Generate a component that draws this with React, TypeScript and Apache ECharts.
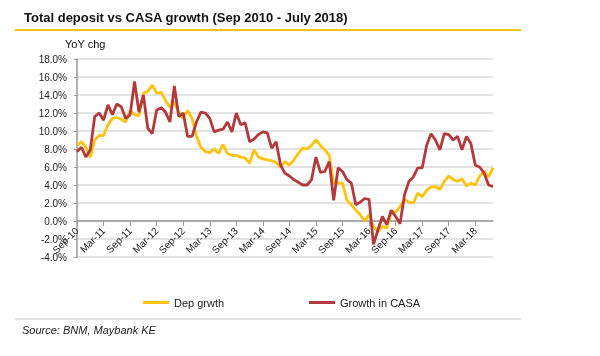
import React, { useEffect, useRef } from "react";
import * as echarts from "echarts";

const TITLE = "Total deposit vs CASA growth (Sep 2010 - July 2018)";
const Y_UNIT = "YoY chg";
const SOURCE = "Source: BNM, Maybank KE";
const SERIES_NAMES = ["Dep grwth", "Growth in CASA"];
const MONTH_NAMES = ["Jan", "Feb", "Mar", "Apr", "May", "Jun", "Jul", "Aug", "Sep", "Oct", "Nov", "Dec"];

// Monthly categories Sep-10 .. Jul-18
const categories: string[] = [];
for (let y = 2010, m = 8; y < 2018 || (y === 2018 && m <= 6); ) {
  categories.push(MONTH_NAMES[m] + "-" + String(y).slice(2));
  m++;
  if (m === 12) { m = 0; y++; }
}

const depGrowth = [
  8.4, 8.8, 8.2, 7.1, 9.0, 9.5, 9.5, 10.7, 11.4, 11.5,
  11.3, 11.0, 12.3, 11.8, 11.7, 14.2, 14.4, 15.1, 14.2, 14.3,
  13.4, 12.6, 13.2, 12.0, 11.4, 12.3, 11.4, 9.4, 8.2, 7.7,
  7.6, 8.0, 7.5, 8.5, 7.5, 7.3, 7.3, 7.1, 7.0, 6.4,
  7.9, 7.1, 6.9, 6.8, 6.7, 6.5, 6.0, 6.6, 6.2, 6.8,
  7.5, 8.1, 8.0, 8.4, 9.0, 8.4, 7.9, 7.3, 4.2, 4.2,
  4.2, 2.3, 1.8, 1.2, 0.7, 0.0, 0.7, -0.6, -1.2, -0.6,
  -0.8, 0.9, 1.0, 1.6, 2.4, 2.1, 2.0, 3.1, 2.7, 3.4,
  3.8, 3.8, 3.5, 4.4, 5.0, 4.6, 4.4, 4.7, 3.9, 4.2,
  4.0, 5.0, 5.5, 4.9, 5.9,
];

const casaGrowth = [
  7.7, 8.2, 7.1, 7.9, 11.6, 12.0, 11.2, 12.9, 11.8, 13.0,
  12.7, 11.4, 11.8, 15.5, 12.1, 14.0, 10.3, 9.7, 12.3, 12.6,
  12.1, 11.0, 15.0, 11.6, 12.0, 9.4, 9.4, 11.0, 12.1, 12.0,
  11.4, 9.9, 10.1, 10.2, 11.0, 9.9, 12.0, 10.7, 10.9, 8.8,
  9.1, 9.6, 9.9, 9.8, 8.1, 8.8, 6.2, 5.3, 5.0, 4.6,
  4.3, 4.0, 4.0, 4.6, 7.1, 5.4, 5.5, 6.6, 2.3, 5.9,
  5.5, 4.6, 4.2, 1.8, 2.1, 2.5, 2.4, -2.6, -1.0, 0.5,
  -0.4, 1.2, 0.5, -0.3, 2.9, 4.4, 4.9, 5.9, 5.9, 8.4,
  9.7, 9.0, 7.9, 9.7, 9.6, 9.0, 9.4, 7.9, 9.4, 8.6,
  6.2, 6.0, 5.3, 4.0, 3.8,
];

const Y_MIN = -4;
const Y_MAX = 18;
const Y_STEP = 2;

const YELLOW = "#FFC20E";
const RED = "#B23A3C";
const FONT = "'Liberation Sans', Arial, sans-serif";

const GRID_TOP = 59;
const GRID_BOTTOM_PX = 257;

export default function App() {
  const ref = useRef<HTMLDivElement>(null);
  useEffect(() => {
    if (!ref.current) return;
    const chart = echarts.init(ref.current, undefined, { renderer: "svg" });
    // place the category axis on the zero line of the value axis
    const zeroOffset = -((GRID_BOTTOM_PX - GRID_TOP) * (0 - Y_MIN)) / (Y_MAX - Y_MIN);
    chart.setOption({
      animation: false,
      textStyle: { fontFamily: FONT },
      grid: { left: 77, right: 107, top: GRID_TOP, bottom: 356 - GRID_BOTTOM_PX, containLabel: false },
      legend: [
        {
          data: [SERIES_NAMES[0]],
          left: 138, top: 292,
          icon: "rect", itemWidth: 26, itemHeight: 3,
          textStyle: { fontSize: 11, color: "#222", fontFamily: FONT },
        },
        {
          data: [SERIES_NAMES[1]],
          left: 304, top: 292,
          icon: "rect", itemWidth: 26, itemHeight: 3,
          textStyle: { fontSize: 11, color: "#222", fontFamily: FONT },
        },
      ],
      xAxis: {
        type: "category",
        data: categories,
        boundaryGap: false,
        offset: zeroOffset,
        axisLine: { onZero: false, lineStyle: { color: "#999", width: 1.5 } },
        axisTick: { show: true, interval: 5, length: 5, lineStyle: { color: "#999" } },
        axisLabel: { interval: 5, rotate: 45, fontSize: 10, color: "#222", margin: 8, fontFamily: FONT },
        splitLine: { show: false },
      },
      yAxis: {
        type: "value",
        min: Y_MIN, max: Y_MAX, interval: Y_STEP,
        axisLine: { show: true, lineStyle: { color: "#999", width: 1.5 } },
        axisTick: { show: true, length: 3, lineStyle: { color: "#999" } },
        axisLabel: { fontSize: 10, color: "#222", margin: 10, fontFamily: FONT, formatter: (v: number) => v.toFixed(1) + "%" },
        splitLine: { show: true, lineStyle: { color: "#E3E3E3", width: 2 } },
      },
      series: [
        {
          name: SERIES_NAMES[0], type: "line", data: depGrowth,
          showSymbol: false, symbol: "none",
          lineStyle: { color: YELLOW, width: 2.8 }, itemStyle: { color: YELLOW }, z: 2,
        },
        {
          name: SERIES_NAMES[1], type: "line", data: casaGrowth,
          showSymbol: false, symbol: "none",
          lineStyle: { color: RED, width: 2.8 }, itemStyle: { color: RED }, z: 3,
        },
      ],
      graphic: [
        {
          type: "text", x: 24, y: 11,
          style: { text: TITLE, fontSize: 13, fontWeight: "bold", fill: "#111", fontFamily: FONT },
        },
        {
          type: "line", shape: { x1: 15, y1: 30, x2: 521, y2: 30 },
          style: { stroke: "#F2C31A", lineWidth: 2 },
        },
        {
          type: "text", x: 65, y: 38,
          style: { text: Y_UNIT, fontSize: 11, fill: "#111", fontFamily: FONT },
        },
        {
          type: "line", shape: { x1: 15, y1: 319, x2: 521, y2: 319 },
          style: { stroke: "#C8C8C8", lineWidth: 1 },
        },
        {
          type: "text", x: 22, y: 324,
          style: { text: SOURCE, fontSize: 11, fontStyle: "italic", fill: "#222", fontFamily: FONT },
        },
      ],
    });
    return () => chart.dispose();
  }, []);
  return <div ref={ref} style={{ position: "fixed", left: 0, top: 0, width: 600, height: 356 }} />;
}
